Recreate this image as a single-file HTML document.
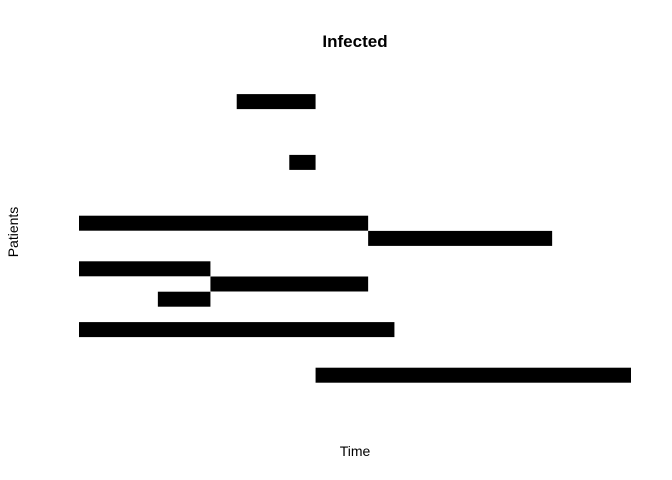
<!DOCTYPE html>
<html><head><meta charset="utf-8"><style>
body{margin:0;background:#fff;}
svg{display:block;font-family:"Liberation Sans",sans-serif;}
</style></head><body>
<svg id="chart" width="672" height="480">
<text x="355" y="47" text-anchor="middle" font-size="17" font-weight="bold">Infected</text>
<text x="355" y="456" text-anchor="middle" font-size="14">Time</text>
<text transform="translate(18,232) rotate(-90)" text-anchor="middle" font-size="14">Patients</text>
<g id="bars"></g>
</svg>
<script>
const rows = [0, 4, 8, 9, 11, 12, 13, 15, 18];
const starts = [6, 8, 0, 11, 0, 5, 3, 0, 9];
const ends = [9, 9, 11, 18, 5, 11, 5, 12, 21];
const x0 = 79, xUnit = 552/21;
const y0 = 101.6, yUnit = 15.2;
function xs(v){return x0 + v*xUnit;}
function ys(r){return y0 + r*yUnit;}
const g = document.getElementById('bars');
for (let i=0;i<rows.length;i++){
  const r = document.createElementNS('http://www.w3.org/2000/svg','rect');
  r.setAttribute('x', xs(starts[i]));
  r.setAttribute('width', xs(ends[i]) - xs(starts[i]));
  r.setAttribute('y', ys(rows[i]) - 7.5);
  r.setAttribute('height', 15);
  r.setAttribute('fill', '#000');
  
  
  g.appendChild(r);
}
</script>
</body></html>
